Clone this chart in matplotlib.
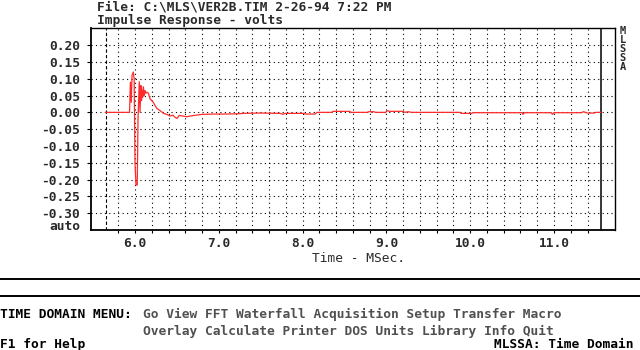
import numpy as np
import matplotlib
matplotlib.use("Agg")
import matplotlib.pyplot as plt
from matplotlib.lines import Line2D

# impulse response trace (ms, volts)
time_ms = [5.65, 5.935, 5.945, 5.955, 5.965, 5.98, 5.99, 6.00, 6.012, 6.027,
           6.036, 6.051, 6.060, 6.070, 6.078, 6.085, 6.092, 6.10, 6.11, 6.12,
           6.13, 6.14, 6.16, 6.18, 6.20, 6.22, 6.24, 6.26, 6.30, 6.34,
           6.38, 6.42, 6.45, 6.48, 6.50, 6.53, 6.57, 6.62, 6.68, 6.74,
           6.80, 6.95, 7.09, 7.25, 7.29, 7.49, 7.73, 7.77, 7.79, 8.02,
           8.03, 8.15, 8.17, 8.35, 8.36, 8.56, 8.58, 8.77, 8.79, 8.85,
           8.87, 8.99, 9.01, 9.04, 9.20, 9.22, 9.26, 9.30, 9.88, 9.89,
           10.02, 10.03, 10.62, 10.63, 10.65, 10.97, 10.98, 11.00, 11.33, 11.35,
           11.40, 11.48, 11.50, 11.555]
volts = [0.0, 0.0, 0.09, 0.03, 0.11, 0.12, 0.10, -0.15, -0.216, -0.216,
         -0.02, 0.091, 0.0, 0.08, 0.035, 0.066, 0.045, 0.076, 0.05, 0.065,
         0.057, 0.06, 0.057, 0.04, 0.035, 0.029, 0.02, 0.012, 0.005, -0.003,
         -0.006, -0.011, -0.008, -0.015, -0.018, -0.009, -0.011, -0.013, -0.010, -0.008,
         -0.006, -0.005, -0.005, -0.004, -0.003, -0.002, -0.003, -0.006, -0.003, -0.003,
         -0.005, -0.005, 0.0, 0.0, 0.003, 0.003, 0.0, 0.0, 0.002, 0.002,
         0.0, 0.0, 0.005, 0.003, 0.003, 0.0, 0.002, 0.0, 0.0, -0.003,
         -0.003, -0.001, -0.001, -0.006, -0.001, -0.001, -0.006, -0.001, -0.001, 0.002,
         -0.002, -0.002, 0.0, 0.0]

y_ticks = [0.20, 0.15, 0.10, 0.05, 0.00, -0.05, -0.10, -0.15, -0.20, -0.25, -0.30]
y_labels = ["0.20", "0.15", "0.10", "0.05", "0.00", "-0.05", "-0.10",
            "-0.15", "-0.20", "-0.25", "-0.30"]
x_ticks = [6.0, 7.0, 8.0, 9.0, 10.0, 11.0]
x_labels = ["6.0", "7.0", "8.0", "9.0", "10.0", "11.0"]
x_minor = [5.8 + 0.2 * i for i in range(29)]

title_1 = "File: C:\\MLS\\VER2B.TIM 2-26-94 7:22 PM"
title_2 = "Impulse Response - volts"
menu_1 = "Go View FFT Waterfall Acquisition Setup Transfer Macro"
menu_2 = "Overlay Calculate Printer DOS Units Library Info Quit"

W, H = 640, 350
MONO = "DejaVu Sans Mono"
FS = 9.3
TXT = "#2a2a2a"


def fx(x):
    return x / W


def fy(y):
    return 1 - y / H


fig = plt.figure(figsize=(6.4, 3.5), dpi=100)
fig.patch.set_facecolor("white")
ax = fig.add_axes([fx(91), fy(230), 524 / W, 202 / H])

ax.plot(time_ms, volts, color="#ff2a2a", lw=0.9, zorder=3)

# window markers
ax.axvline(5.65, color="black", lw=0.8, ls=(0, (3, 2)), zorder=2)
ax.axvline(11.555, color="black", lw=1.1, zorder=2)

ax.set_xlim(5.475, 11.728)
ax.set_ylim(-0.35, 0.251)

ax.set_yticks(y_ticks)
ax.set_yticklabels(y_labels)
ax.set_xticks(x_ticks)
ax.set_xticklabels(x_labels)
ax.set_xticks(x_minor, minor=True)

ax.grid(True, axis="y", which="major", color="black", lw=0.8, ls=(0, (1, 3)))
ax.grid(True, axis="x", which="both", color="black", lw=0.8, ls=(0, (1, 3)))
ax.set_axisbelow(True)

ax.tick_params(axis="y", direction="out", length=3, width=0.8, pad=5, labelsize=FS,
               labelcolor=TXT)
ax.tick_params(axis="x", which="both", direction="out", length=2.2, width=0.8, pad=3,
               labelsize=FS, labelcolor=TXT)
for lab in ax.get_xticklabels() + ax.get_yticklabels():
    lab.set_fontfamily(MONO)
    lab.set_fontweight("bold")

for s in ["top", "right"]:
    ax.spines[s].set_linewidth(1.0)
for s in ["left", "bottom"]:
    ax.spines[s].set_linewidth(1.3)

fig.text(fx(80), fy(227), "auto", ha="right", va="center", family=MONO,
         weight="bold", fontsize=FS, color=TXT)
fig.text(fx(358), fy(259), "Time - MSec.", ha="center", va="center", family=MONO,
         fontsize=FS, color=TXT)

fig.text(fx(97), fy(10), title_1, ha="left", va="baseline", family=MONO,
         weight="bold", fontsize=FS, color=TXT)
fig.text(fx(97), fy(24.3), title_2, ha="left", va="baseline", family=MONO,
         weight="bold", fontsize=FS, color=TXT)
fig.text(fx(623), fy(49), "M\nL\nS\nS\nA", ha="center", va="center", family=MONO,
         weight="bold", fontsize=7.5, linespacing=0.85, color=TXT)

for yy in (278.5, 295.5):
    fig.add_artist(Line2D([0, 1], [fy(yy), fy(yy)], transform=fig.transFigure,
                          color="black", lw=1.4))

fig.text(fx(0), fy(318.3), "TIME DOMAIN MENU:", ha="left", va="baseline", family=MONO,
         weight="bold", fontsize=FS, color="black")
fig.text(fx(143), fy(318.3), menu_1, ha="left", va="baseline", family=MONO,
         weight="bold", fontsize=FS, color="#505050")
fig.text(fx(143), fy(335), menu_2, ha="left", va="baseline", family=MONO,
         weight="bold", fontsize=FS, color="#505050")
fig.text(fx(0), fy(348), "F1 for Help", ha="left", va="baseline", family=MONO,
         weight="bold", fontsize=FS, color="black")
fig.text(fx(633), fy(348), "MLSSA: Time Domain", ha="right", va="baseline", family=MONO,
         weight="bold", fontsize=FS, color="black")

fig.savefig("out.png", dpi=100)
